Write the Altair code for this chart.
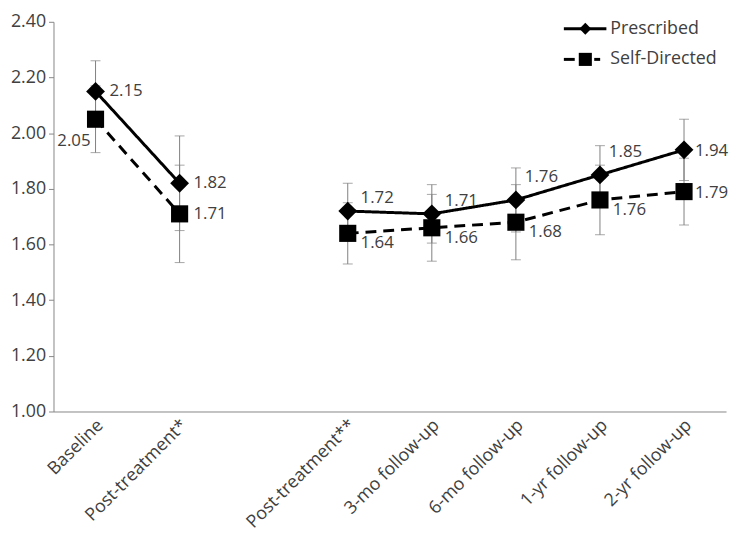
import altair as alt
import pandas as pd

# ---------------- data ----------------
categories = ["Baseline", "Post-treatment*", " ", "Post-treatment**",
              "3-mo follow-up", "6-mo follow-up", "1-yr follow-up", "2-yr follow-up"]
timepoints = ["Baseline", "Post-treatment*", "Post-treatment**",
              "3-mo follow-up", "6-mo follow-up", "1-yr follow-up", "2-yr follow-up"]
phase = ["treatment", "treatment", "follow", "follow", "follow", "follow", "follow"]
series_names = ["Prescribed", "Self-Directed"]
prescribed = [2.15, 1.82, 1.72, 1.71, 1.76, 1.85, 1.94]
self_directed = [2.05, 1.71, 1.64, 1.66, 1.68, 1.76, 1.79]
prescribed_err = [0.11, 0.17, 0.10, 0.105, 0.115, 0.105, 0.11]
self_directed_err = [0.12, 0.175, 0.11, 0.12, 0.135, 0.125, 0.12]
y_ticks = [1.0, 1.2, 1.4, 1.6, 1.8, 2.0, 2.2, 2.4]

# ---------------- label placement (style) ----------------
prescribed_place = ["right", "right", "upright", "upright", "up", "up", "rightnear"]
self_directed_place = ["downleft", "right", "downright", "downright", "downright", "downright", "rightnear"]
place_style = {
    "right": dict(dx=14, dy=0, align="left"),
    "rightnear": dict(dx=11, dy=1, align="left"),
    "upright": dict(dx=13, dy=-13, align="left"),
    "up": dict(dx=9, dy=-23, align="left"),
    "downright": dict(dx=13, dy=10, align="left"),
    "downleft": dict(dx=-5, dy=22, align="right"),
}

rows = []
for name, vals, errs, places in [
    (series_names[0], prescribed, prescribed_err, prescribed_place),
    (series_names[1], self_directed, self_directed_err, self_directed_place),
]:
    for t, ph, v, e, p in zip(timepoints, phase, vals, errs, places):
        rows.append(dict(series=name, time=t, phase=ph, value=v, err=e, place=p))
df = pd.DataFrame(rows)

FONT = "Open Sans"
TXT = "#404040"
GRAY = "#808080"

x_enc = alt.X("time:N", scale=alt.Scale(domain=categories, paddingInner=0, paddingOuter=0),
              sort=categories,
              axis=alt.Axis(title=None, labelAngle=315, ticks=False, domainColor="#868686",
                            labelFontSize=18, labelFont=FONT, labelColor=TXT, labelPadding=11,
                            labelOffset=5, labelAlign="right", labelBaseline="middle"))
y_scale = alt.Scale(domain=[1.0, 2.4], nice=False, zero=False)
y_enc = alt.Y("value:Q", scale=y_scale,
              axis=alt.Axis(title=None, values=y_ticks, format=".2f", grid=False,
                            tickSize=5, tickColor="#868686", domainColor="#868686",
                            labelFontSize=18, labelFont=FONT, labelColor=TXT, labelPadding=3))

base = alt.Chart(df).transform_calculate(
    lo="datum.value - datum.err", hi="datum.value + datum.err"
)

rules = base.mark_rule(color=GRAY, strokeWidth=1).encode(
    x=x_enc, y=alt.Y("lo:Q", scale=y_scale), y2="hi:Q")
cap_lo = base.mark_tick(color=GRAY, thickness=1, size=10).encode(
    x=x_enc, y=alt.Y("lo:Q", scale=y_scale))
cap_hi = base.mark_tick(color=GRAY, thickness=1, size=10).encode(
    x=x_enc, y=alt.Y("hi:Q", scale=y_scale))

lines = base.mark_line(color="black", strokeWidth=3).encode(
    x=x_enc, y=y_enc,
    detail=["series:N", "phase:N"],
    strokeDash=alt.StrokeDash("series:N",
                              scale=alt.Scale(domain=series_names, range=[[1, 0], [11, 7]]),
                              legend=None),
)

points = base.mark_point(filled=True, color="black", opacity=1).encode(
    x=x_enc, y=y_enc,
    shape=alt.Shape("series:N", scale=alt.Scale(domain=series_names, range=["diamond", "square"]),
                    legend=None),
    size=alt.Size("series:N", scale=alt.Scale(domain=series_names, range=[361, 300]), legend=None),
)

texts = []
for key, st in place_style.items():
    texts.append(
        base.transform_filter(alt.datum.place == key).mark_text(
            font=FONT, fontSize=17, color=TXT, baseline="middle", **st
        ).encode(x=x_enc, y=y_enc, text=alt.Text("value:Q", format=".2f"))
    )

# ---------------- hand-built legend (top right, inside plot) ----------------
LX0, LX1, LXC, LXT = 516, 559, 537.7, 563
ROW_Y = [7, 38]
legend_layers = []
for i, name in enumerate(series_names):
    ld = alt.Chart(pd.DataFrame({"label": [name]}))
    yv = alt.value(ROW_Y[i])
    if i == 0:
        legend_layers.append(ld.mark_rule(color="black", strokeWidth=3).encode(
            x=alt.value(LX0), x2=alt.value(LX1), y=yv))
        legend_layers.append(ld.mark_point(shape="diamond", filled=True, color="black",
                                           size=144, opacity=1).encode(x=alt.value(LXC), y=yv))
    else:
        legend_layers.append(ld.mark_rule(color="black", strokeWidth=3).encode(
            x=alt.value(LX0), x2=alt.value(LX0 + 11), y=yv))
        legend_layers.append(ld.mark_rule(color="black", strokeWidth=3).encode(
            x=alt.value(LXC + 9), x2=alt.value(LXC + 15), y=yv))
        legend_layers.append(ld.mark_point(shape="square", filled=True, color="black",
                                           size=175, opacity=1).encode(x=alt.value(LXC), y=yv))
    legend_layers.append(ld.mark_text(font=FONT, fontSize=18, color=TXT, align="left",
                                      baseline="middle").encode(
        x=alt.value(LXT), y=yv, text="label:N"))

chart = alt.layer(rules, cap_lo, cap_hi, lines, points, *texts, *legend_layers).properties(
    width=680, height=394,
    autosize=alt.AutoSizeParams(type="none"),
    padding={"left": 46, "top": 11, "right": 6, "bottom": 130},
).configure_view(stroke=None)

chart.save("out.html", embed_options={"renderer": "svg", "actions": False})
